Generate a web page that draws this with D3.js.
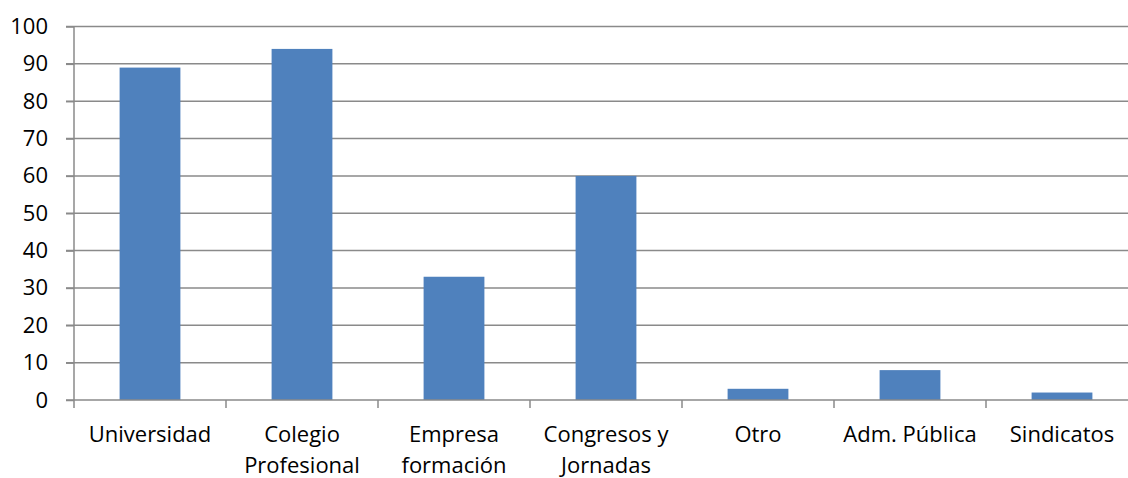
<!DOCTYPE html>
<html lang="es">
<head>
    <meta charset="UTF-8">
    <title>Chart</title>
    <script src="https://cdn.jsdelivr.net/npm/d3@7"></script>
    <style>
        body { margin: 0; background: #fff; }
        text { font-family: "Open Sans", sans-serif; fill: #000; }
    </style>
</head>
<body>
    <div id="chart"></div>

    <script>
        const categories = ["Universidad", "Colegio\nProfesional", "Empresa\nformación", "Congresos y\nJornadas", "Otro", "Adm. Pública", "Sindicatos"];
        const values = [89, 94, 33, 60, 3, 8, 2];
        const yTicks = [0, 10, 20, 30, 40, 50, 60, 70, 80, 90, 100];

        const width = 1128;
        const height = 478;
        const marginLeft = 74;
        const plotRight = 1138;
        const y0 = 400;
        const y100 = 26.5;

        const x = d3.scaleBand()
            .domain(categories)
            .range([marginLeft, plotRight])
            .paddingInner(0.6)
            .paddingOuter(0.3);

        const y = d3.scaleLinear()
            .domain([0, 100])
            .range([y0, y100]);

        const svg = d3.select("#chart").append("svg")
            .attr("width", width)
            .attr("height", height);

        // gridlines
        svg.append("g")
            .selectAll("line")
            .data(yTicks.filter(d => d > 0))
            .join("line")
            .attr("x1", marginLeft - 8)
            .attr("x2", plotRight)
            .attr("y1", d => y(d))
            .attr("y2", d => y(d))
            .attr("stroke", "#8a8a8a")
            .attr("stroke-width", 1.5);

        // y axis
        svg.append("g")
            .attr("transform", `translate(${marginLeft},0)`)
            .call(d3.axisLeft(y).tickValues(yTicks).tickSize(8).tickPadding(18))
            .call(g => g.select(".domain").attr("stroke", "#8a8a8a").attr("stroke-width", 1.5).attr("d", `M0,${y100}V${y0}`))
            .call(g => g.selectAll(".tick line").attr("stroke", "#8a8a8a").attr("stroke-width", 1.5))
            .call(g => g.selectAll(".tick text")
                .attr("font-size", 22)
                .attr("font-family", "Open Sans, sans-serif")
                .attr("fill", "#000"));

        // bars
        svg.append("g")
            .attr("fill", "#4f81bd")
            .selectAll("rect")
            .data(values)
            .join("rect")
            .attr("x", (d, i) => x(categories[i]))
            .attr("width", x.bandwidth())
            .attr("y", d => y(d))
            .attr("height", d => y0 - y(d));

        // x axis
        const step = x.step();
        svg.append("line")
            .attr("x1", marginLeft - 8)
            .attr("x2", plotRight)
            .attr("y1", y0)
            .attr("y2", y0)
            .attr("stroke", "#8a8a8a")
            .attr("stroke-width", 1.5);

        svg.append("g")
            .selectAll("line")
            .data(d3.range(categories.length + 1))
            .join("line")
            .attr("x1", i => marginLeft + i * step)
            .attr("x2", i => marginLeft + i * step)
            .attr("y1", y0)
            .attr("y2", y0 + 8)
            .attr("stroke", "#8a8a8a")
            .attr("stroke-width", 1.5);

        const labels = svg.append("g")
            .selectAll("text")
            .data(categories)
            .join("text")
            .attr("text-anchor", "middle")
            .attr("font-size", 22)
            .attr("transform", d => `translate(${x(d) + x.bandwidth() / 2},442)`);

        labels.selectAll("tspan")
            .data(d => d.split("\n"))
            .join("tspan")
            .attr("x", 0)
            .attr("y", (d, i) => i * 31)
            .text(d => d);
    </script>
</body>
</html>
